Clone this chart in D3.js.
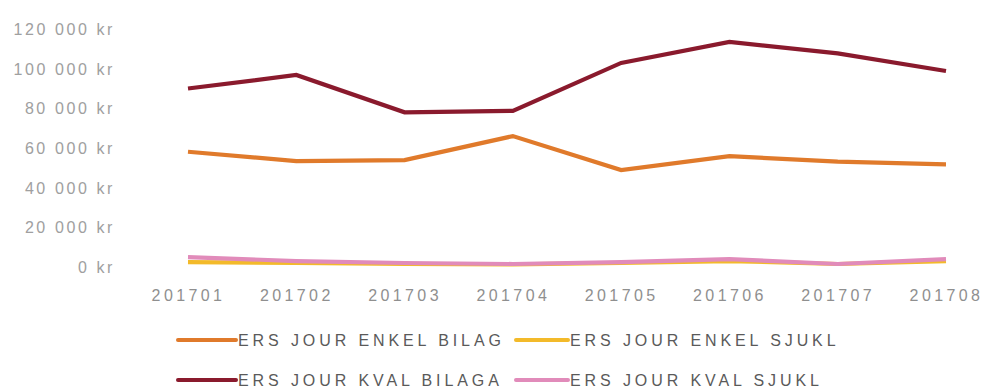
<!DOCTYPE html>
<html><head><meta charset="utf-8">
<script src="https://cdn.jsdelivr.net/npm/d3@7"></script>
<style>
body{margin:0;background:#fff;}
text{font-family:"Liberation Sans",Arial,sans-serif;}
</style></head>
<body><svg id="c" width="983" height="392"></svg>
<script>
const months = ["201701","201702","201703","201704","201705","201706","201707","201708"];
const enkelBilag = [57600, 52900, 53400, 65500, 48400, 55400, 52600, 51200];
const enkelSjukl = [2000, 1500, 1000, 800, 1500, 2500, 1000, 2500];
const kvalBilaga = [89500, 96300, 77500, 78200, 102400, 113000, 107200, 98300];
const kvalSjukl = [4500, 2500, 1500, 1000, 2000, 3500, 1000, 3500];
const yTicks = [0, 20000, 40000, 60000, 80000, 100000, 120000];
const seriesNames = ["ERS JOUR ENKEL BILAG","ERS JOUR ENKEL SJUKL","ERS JOUR KVAL BILAGA","ERS JOUR KVAL SJUKL"];
const colors = ["#E07A2B","#F3BA2A","#8A1A2D","#E18BBA"];

const series = [enkelBilag, enkelSjukl, kvalBilaga, kvalSjukl];
const drawOrder = [1, 3, 0, 2];

const svg = d3.select("#c");
const x = d3.scalePoint().domain(months).range([188, 946]);
const y = d3.scaleLinear().domain([0, 120000]).range([266, 28]);

const loc = d3.formatLocale({decimal:",", thousands:" ", grouping:[3], currency:[""," kr"]});
const fmt = loc.format("$,");

const yAxis = svg.append("g").attr("transform","translate(115,0)")
  .call(d3.axisLeft(y).tickValues(yTicks).tickFormat(fmt).tickSize(0).tickPadding(0));
yAxis.select(".domain").remove();
yAxis.selectAll("text").attr("fill","#a0a0a0").style("font-size","16px").style("letter-spacing","2.6px").attr("dy","0.4em");

const xAxis = svg.append("g").attr("transform","translate(0,290)")
  .call(d3.axisBottom(x).tickSize(0).tickPadding(0));
xAxis.select(".domain").remove();
xAxis.selectAll("text").attr("fill","#8f8f8f").style("font-size","16px").style("letter-spacing","3.4px").attr("dy","0.71em");

const line = d3.line().x((d,i)=>x(months[i])).y(d=>y(d));
drawOrder.forEach(k=>{
  svg.append("path").datum(series[k]).attr("d", line)
    .attr("fill","none").attr("stroke",colors[k]).attr("stroke-width",4.2)
    .attr("stroke-linejoin","miter");
});

const legX = [178, 516], legY = [340, 380];
seriesNames.forEach((n,i)=>{
  const g = svg.append("g").attr("transform",`translate(${legX[i%2]},${legY[Math.floor(i/2)]})`);
  g.append("line").attr("x1",0).attr("x2",i%2?52:58).attr("y1",0).attr("y2",0)
    .attr("stroke",colors[i]).attr("stroke-width",4).attr("stroke-linecap","round");
  g.append("text").attr("x",i%2?54:60).attr("y",0).attr("dy","0.36em")
    .attr("fill","#5a5a5a").style("font-size","16px").style("letter-spacing","3.9px").text(n);
});
</script></body></html>
